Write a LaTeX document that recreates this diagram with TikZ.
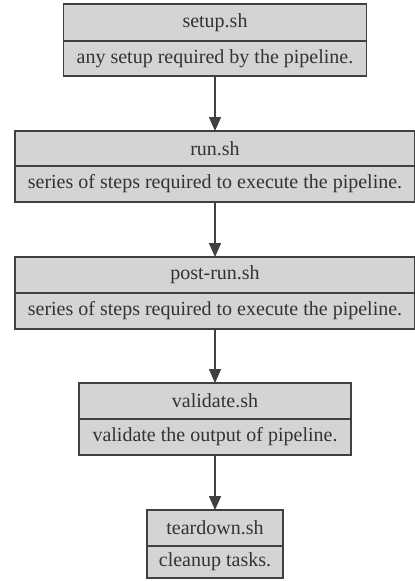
\documentclass[tikz,border=0pt]{standalone}
\usepackage{fontspec}
\setmainfont{Liberation Serif}
\newfontfamily\diagfont{Liberation Serif}
\usetikzlibrary{arrows.meta}
\tikzset{
  part/.style={draw=black!75, fill=black!17, line width=1.4pt, inner sep=0pt, outer sep=0pt,
    font=\diagfont\fontsize{20}{22}\selectfont, text=black!80, anchor=north},
  conn/.style={draw=black!75, line width=1.6pt, -{Triangle[length=14pt,width=12pt]}}
}
\begin{document}
\begin{tikzpicture}[x=1pt,y=-1pt]
\useasboundingbox (0,0) rectangle (415,581);
% box 1
\node[part, minimum width=303pt, minimum height=37pt] (s1) at (215,4) {setup.sh};
\node[part, minimum width=303pt, minimum height=35pt] (d1) at (215,41) {any setup required by the pipeline.};
% box 2
\node[part, minimum width=400pt, minimum height=35pt] (s2) at (215,131) {run.sh};
\node[part, minimum width=400pt, minimum height=36pt] (d2) at (215,166) {series of steps required to execute the pipeline.};
% box 3
\node[part, minimum width=400pt, minimum height=36pt] (s3) at (215,257) {post-run.sh};
\node[part, minimum width=400pt, minimum height=36pt] (d3) at (215,293) {series of steps required to execute the pipeline.};
% box 4
\node[part, minimum width=272pt, minimum height=36pt] (s4) at (215,383) {validate.sh};
\node[part, minimum width=272pt, minimum height=36pt] (d4) at (215,419) {validate the output of pipeline.};
% box 5
\node[part, minimum width=136pt, minimum height=36pt] (s5) at (215,510) {teardown.sh};
\node[part, minimum width=136pt, minimum height=32pt] (d5) at (215,546) {cleanup tasks.};
% connectors
\draw[conn] (d1.south) -- (s2.north);
\draw[conn] (d2.south) -- (s3.north);
\draw[conn] (d3.south) -- (s4.north);
\draw[conn] (d4.south) -- (s5.north);
\end{tikzpicture}
\end{document}
